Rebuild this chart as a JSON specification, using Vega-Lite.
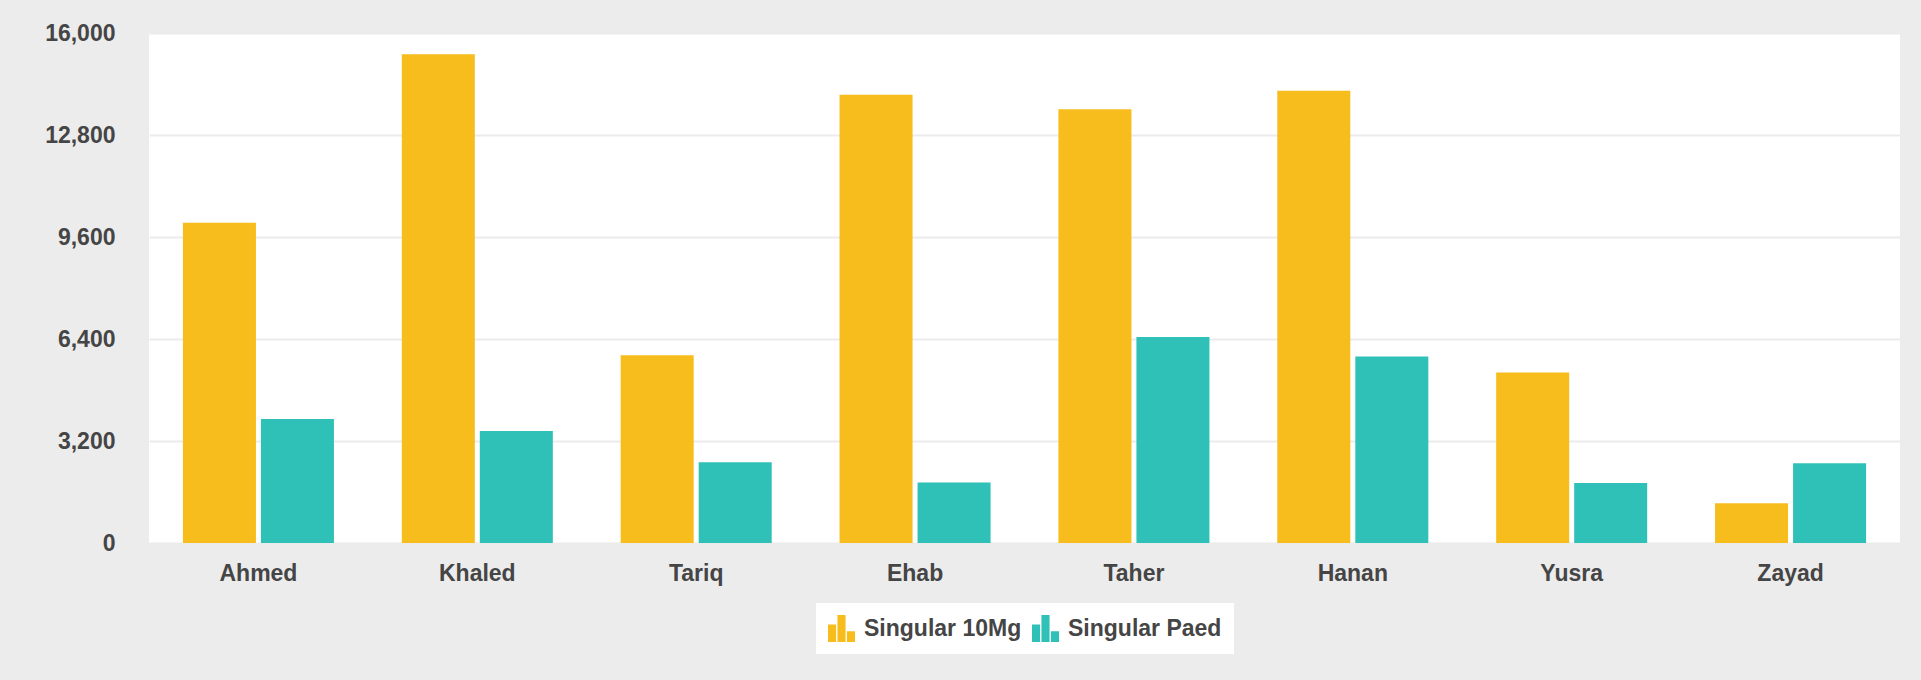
{
  "$schema": "https://vega.github.io/schema/vega-lite/v6.json",
  "width": 1751,
  "height": 510,
  "autosize": {"type": "none"},
  "padding": {"left": 149, "top": 33, "right": 21, "bottom": 137},
  "background": "#ececec",
  "config": {
    "view": {"fill": "#ffffff", "stroke": null},
    "font": "Liberation Sans",
    "legend": {"layout": {"bottom": {"anchor": "middle"}}}
  },
  "data": {
    "values": [
      {"name": "Ahmed", "series": "Singular 10Mg", "value": 10050},
      {"name": "Ahmed", "series": "Singular Paed", "value": 3890},
      {"name": "Khaled", "series": "Singular 10Mg", "value": 15330},
      {"name": "Khaled", "series": "Singular Paed", "value": 3510},
      {"name": "Tariq", "series": "Singular 10Mg", "value": 5890},
      {"name": "Tariq", "series": "Singular Paed", "value": 2530},
      {"name": "Ehab", "series": "Singular 10Mg", "value": 14060},
      {"name": "Ehab", "series": "Singular Paed", "value": 1900},
      {"name": "Taher", "series": "Singular 10Mg", "value": 13610},
      {"name": "Taher", "series": "Singular Paed", "value": 6460},
      {"name": "Hanan", "series": "Singular 10Mg", "value": 14190},
      {"name": "Hanan", "series": "Singular Paed", "value": 5850},
      {"name": "Yusra", "series": "Singular 10Mg", "value": 5350},
      {"name": "Yusra", "series": "Singular Paed", "value": 1880},
      {"name": "Zayad", "series": "Singular 10Mg", "value": 1250},
      {"name": "Zayad", "series": "Singular Paed", "value": 2500}
    ]
  },
  "mark": {"type": "bar"},
  "encoding": {
    "x": {
      "field": "name",
      "type": "nominal",
      "sort": null,
      "scale": {"paddingInner": 0.31, "paddingOuter": 0.155},
      "axis": {
        "title": null,
        "labelAngle": 0,
        "domain": false,
        "ticks": false,
        "grid": false,
        "labelFont": "Liberation Sans",
        "labelFontSize": 23,
        "labelFontWeight": "bold",
        "labelColor": "#454545",
        "labelPadding": 19
      }
    },
    "xOffset": {
      "field": "series",
      "type": "nominal",
      "sort": null,
      "scale": {"paddingInner": 0.064}
    },
    "y": {
      "field": "value",
      "type": "quantitative",
      "scale": {"domain": [0, 16000], "nice": false},
      "axis": {
        "title": null,
        "values": [0, 3200, 6400, 9600, 12800, 16000],
        "format": ",.0f",
        "domain": false,
        "ticks": false,
        "grid": true,
        "gridColor": "#ebebeb",
        "gridWidth": 2,
        "labelFont": "Liberation Sans",
        "labelFontSize": 23,
        "labelFontWeight": "bold",
        "labelColor": "#454545",
        "labelPadding": 34
      }
    },
    "color": {
      "field": "series",
      "type": "nominal",
      "sort": null,
      "scale": {
        "domain": ["Singular 10Mg", "Singular Paed"],
        "range": ["#f7bd1c", "#2fc0b8"]
      },
      "legend": {
        "title": null,
        "orient": "bottom",
        "direction": "horizontal",
        "symbolType": "M-1,-0.3H-0.4V1H-1Z M-0.3,-1H0.3V1H-0.3Z M0.4,0.2H1V1H0.4Z",
        "symbolSize": 729,
        "symbolStrokeWidth": 0,
        "symbolOpacity": 1,
        "labelFont": "Liberation Sans",
        "labelFontSize": 23,
        "labelFontWeight": "bold",
        "labelColor": "#454545",
        "fillColor": "#ffffff",
        "padding": 12,
        "columnPadding": 10,
        "labelOffset": 9
      }
    }
  }
}
